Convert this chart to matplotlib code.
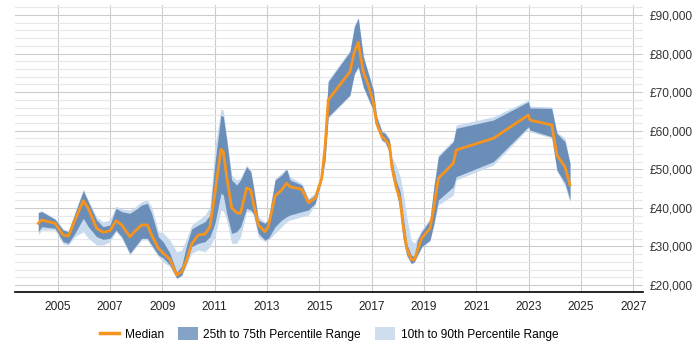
import matplotlib
matplotlib.use("Agg")
import matplotlib.pyplot as plt
from matplotlib.lines import Line2D
from matplotlib.patches import Patch
from matplotlib.ticker import MultipleLocator, FuncFormatter

plt.rcParams['font.family'] = ['Liberation Sans', 'DejaVu Sans']

years = [2004.26, 2004.39, 2004.90, 2005.21, 2005.41, 2005.66, 2005.98, 2006.17, 2006.49, 2006.74,
         2007.00, 2007.23, 2007.45, 2007.76, 2007.96, 2008.21, 2008.43, 2008.59, 2008.85, 2009.04,
         2009.29, 2009.55, 2009.74, 2009.93, 2010.12, 2010.37, 2010.63, 2010.82, 2011.01, 2011.24,
         2011.33, 2011.46, 2011.65, 2011.84, 2011.99, 2012.22, 2012.38, 2012.48, 2012.67, 2012.92,
         2013.05, 2013.31, 2013.56, 2013.75, 2013.88, 2014.33, 2014.58, 2014.84, 2015.09, 2015.22,
         2015.34, 2016.17, 2016.34, 2016.49, 2016.68, 2016.87, 2017.06, 2017.19, 2017.39, 2017.51,
         2017.68, 2017.77, 2017.93, 2018.09, 2018.19, 2018.34, 2018.51, 2018.63, 2018.75, 2018.91,
         2019.23, 2019.38, 2019.55, 2020.12, 2020.23, 2021.65, 2022.99, 2023.05, 2023.88, 2024.08,
         2024.39, 2024.58]

median = [35990, 36840, 35990, 32950, 32700, 36840, 41850, 39880, 34690, 33650,
          34070, 36660, 35550, 32510, 33990, 35550, 35550, 32950, 29510, 28210,
          26650, 22580, 23440, 26470, 30620, 32950, 33210, 35110, 43770, 55180,
          54550, 48070, 40030, 38740, 38580, 45140, 44620, 41170, 35550, 33810,
          35110, 43070, 44620, 46360, 45480, 44800, 41330, 42470, 47660, 55850,
          67960, 75300, 80480, 82920, 75300, 71850, 67520, 61920, 58440, 57770,
          56290, 50660, 45480, 42030, 35990, 29510, 26650, 26470, 29060, 32100,
          34690, 40290, 47660, 51550, 55000, 58030, 64070, 62770, 61480, 53700,
          50590, 45920]

p75 = [38740, 39000, 37030, 34250, 33810, 38580, 44440, 41590, 36840, 35110,
       35550, 39880, 39000, 38580, 39440, 40730, 41170, 38580, 32510, 31140,
       28210, 23360, 24920, 30360, 34510, 35550, 36400, 38140, 51550, 64070,
       63630, 57590, 47220, 45920, 47220, 50660, 49370, 45480, 36840, 35990,
       36840, 47220, 48510, 49990, 47220, 45920, 42030, 43330, 48950, 60180,
       72700, 80480, 86970, 89150, 79190, 74880, 70550, 63630, 59740, 59320,
       57590, 52400, 47220, 44180, 38580, 30800, 27770, 27330, 31660, 33810,
       36840, 45480, 53260, 57150, 60620, 62770, 67520, 65890, 65810, 59320,
       57150, 51550]

p25 = [33810, 35110, 34690, 31220, 30800, 33400, 37280, 35110, 32510, 31840,
       32100, 34250, 32510, 28210, 29920, 32100, 32100, 30360, 27770, 26990,
       25180, 21730, 22580, 25950, 29920, 30800, 31220, 32510, 35990, 43770,
       43330, 38580, 33400, 33810, 35110, 39880, 39440, 38580, 33400, 31660,
       32100, 35110, 36840, 37700, 38140, 39000, 39440, 41170, 47220, 52400,
       63630, 69260, 74880, 76600, 71410, 68400, 65370, 61040, 57590, 57150,
       54550, 48950, 44620, 39440, 32510, 27770, 25620, 26030, 27770, 29920,
       31660, 35990, 42030, 45480, 48070, 51960, 61040, 60180, 58440, 49810,
       46440, 42030]

p90 = [39000, 39250, 37280, 34510, 34070, 38920, 44880, 42030, 37620, 36330,
       36840, 40470, 39700, 39440, 40220, 41640, 42030, 40290, 33810, 33470,
       31660, 28550, 29060, 32180, 35550, 36840, 38140, 40290, 55850, 65550,
       65370, 58440, 48510, 47220, 47730, 51110, 49810, 45920, 37700, 36330,
       37360, 47660, 49030, 50330, 48070, 46360, 42550, 43850, 49550, 60700,
       73150, 80920, 87410, 89480, 79630, 75220, 71070, 64070, 60180, 59660,
       58110, 53260, 51110, 48070, 44620, 37700, 31660, 30800, 32180, 34250,
       37360, 45920, 53700, 57590, 61480, 63630, 67960, 66400, 66150, 59660,
       58030, 51880]

p10 = [32950, 34250, 34250, 30620, 30360, 32510, 33810, 32100, 30360, 30360,
       31220, 33810, 32100, 27770, 29510, 31660, 31660, 29920, 27330, 25950,
       24740, 21730, 22320, 25180, 28210, 29060, 28620, 29920, 32510, 39440,
       39180, 36840, 30800, 30800, 32510, 39000, 38920, 38140, 32510, 31220,
       31660, 33400, 35110, 36400, 36840, 37700, 38140, 40730, 46700, 51880,
       63290, 69000, 74440, 76260, 71070, 67960, 65110, 60700, 57330, 56810,
       54220, 48510, 44180, 39000, 32180, 27510, 25440, 25690, 27510, 29580,
       31400, 35550, 40730, 43330, 47220, 51110, 60620, 59740, 58110, 49550,
       45480, 41510]

x_ticks = list(range(2005, 2028, 2))
legend_labels = ["Median", "25th to 75th Percentile Range", "10th to 90th Percentile Range"]

c_median = "#f7941d"
c_dark = "#6b8eb8"
c_light = "#c8daee"

fig = plt.figure(figsize=(7, 3.5), dpi=100)
ax = fig.add_axes([15/700, 1 - 292.3/350, 628/700, 287.3/350])

ax.fill_between(years, p10, p90, color=c_light, lw=0, zorder=2)
ax.fill_between(years, p25, p75, color=c_dark, lw=0, zorder=3)
ax.plot(years, median, color=c_median, lw=2, zorder=4, solid_joinstyle='round')

ax.set_xlim(2003.37, 2027.37)
ax.set_ylim(18100, 92600)
ax.set_xticks(x_ticks)
ax.yaxis.set_major_locator(MultipleLocator(10000))
ax.yaxis.set_minor_locator(MultipleLocator(2000))
ax.yaxis.set_major_formatter(FuncFormatter(lambda v, p: "£{:,.0f}".format(v)))
ax.yaxis.tick_right()
ax.tick_params(axis='y', which='both', length=0, pad=5, labelsize=8.6, colors='#333333')
ax.tick_params(axis='x', length=0, pad=6, labelsize=8.6, colors='#222222')

ax.grid(True, which='major', axis='both', color='#cccccc', lw=0.8, zorder=0)
ax.grid(True, which='minor', axis='y', color='#e8e8e8', lw=0.8, zorder=0)
ax.set_axisbelow(True)

for s in ['top', 'left', 'right']:
    ax.spines[s].set_visible(False)
ax.spines['bottom'].set_color('#000000')
ax.spines['bottom'].set_linewidth(1.2)

handles = [Line2D([0], [0], color=c_median, lw=2.5),
           Patch(facecolor="#85a3c6", edgecolor='none'),
           Patch(facecolor="#cfdeef", edgecolor='none')]
fig.legend(handles, legend_labels, loc='center', bbox_to_anchor=(329/700, 1 - 334/350),
           ncol=3, frameon=False, fontsize=8.6, handlelength=1.6, handleheight=1.2,
           columnspacing=1.2, handletextpad=0.5)

fig.savefig("out.png", dpi=100)
